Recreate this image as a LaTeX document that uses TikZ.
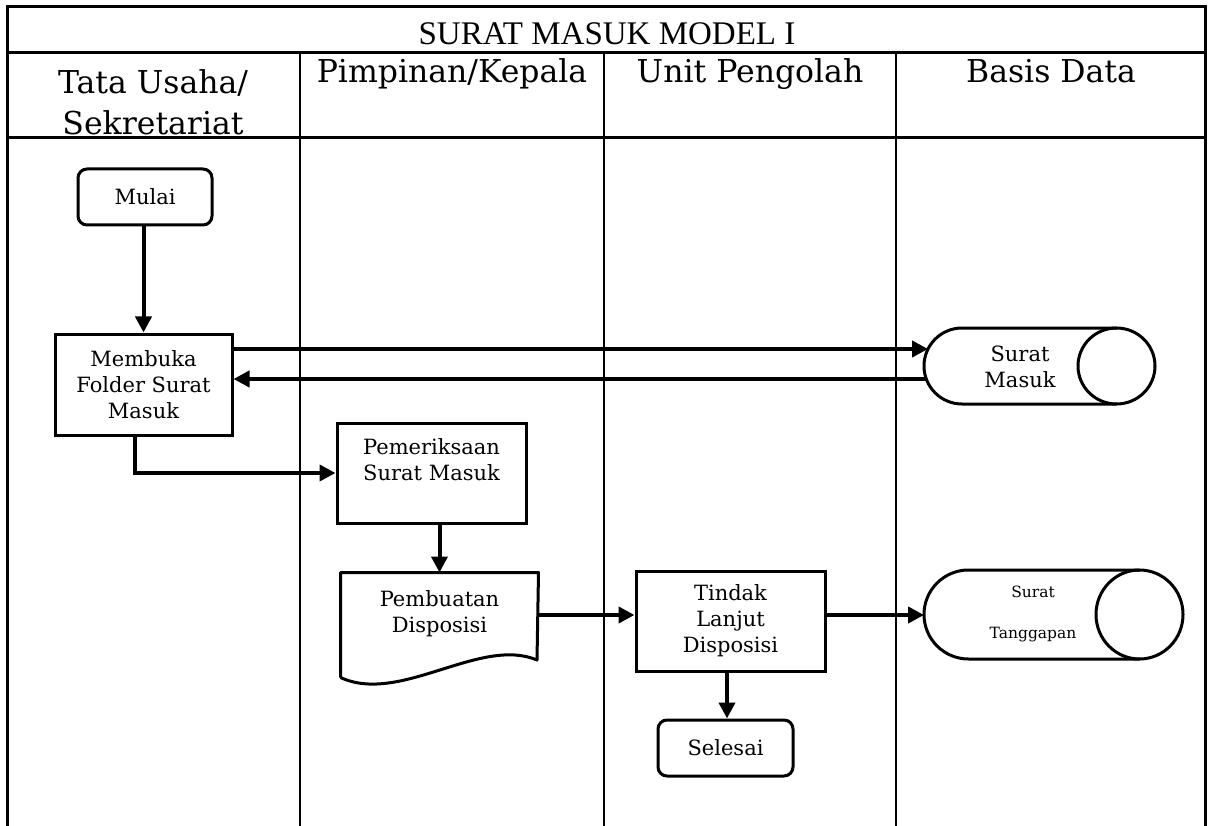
\documentclass[tikz,border=0pt]{standalone}
\usepackage{fontspec}
\setmainfont{DejaVu Serif}
\newfontfamily\titlefont{Liberation Serif}
\usetikzlibrary{arrows.meta}
\tikzset{>=stealth}
\newcommand{\boxtxt}{\fontsize{21}{26}\selectfont}
\newcommand{\headtxt}{\fontsize{31.5}{41}\selectfont}
\newcommand{\smalltxt}{\fontsize{15.5}{41}\selectfont}

\begin{document}
\begin{tikzpicture}[x=1pt,y=-1pt,
  proc/.style={draw,line width=3pt,align=center,font=\boxtxt,inner sep=0pt},
  term/.style={proc,rounded corners=9pt,minimum width=134,minimum height=56},
  arr/.style={-{Triangle[length=16pt,width=16pt]},line width=4pt},
  lane/.style={line width=1.8pt},
  frame/.style={line width=3pt}]
		\useasboundingbox (0,0) rectangle (1210,826);
		% frame and lanes
		\draw[frame] (7,826)--(7,7)--(1205,7)--(1205,826);
		\draw[frame] (7,53)--(1205,53);
		\draw[frame] (7,138)--(1205,138);
		\foreach \x in {300,604,896}
		\draw[lane] (\x,53)--(\x,826);
		\node[anchor=base,font=\titlefont\fontsize{33}{36}\selectfont] (title) at (607,45) {SURAT MASUK MODEL I};
		\node[align=center,font=\headtxt] (tu) at (153,102) {Tata Usaha/\\Sekretariat};
		\node[anchor=base,font=\headtxt] (pim) at (452,83) {Pimpinan/Kepala};
		\node[anchor=base,font=\headtxt] (unit) at (750,83) {Unit Pengolah};
		\node[anchor=base,font=\headtxt] (basis) at (1051,83) {Basis Data};
		% steps
		\node[term] (mulai) at (145,197) {Mulai};
		\node[proc,minimum width=177,minimum height=101] (membuka) at (143.5,384.5) {Membuka\\Folder Surat\\Masuk};
		\node[proc,minimum width=189,minimum height=100] (periksa) at (431.5,473) {Pemeriksaan\\Surat Masuk\\\mbox{}};
		\node[proc,draw=none,minimum width=195,minimum height=102] (doc) at (439.5,625) {Pembuatan\\Disposisi\\\mbox{}};
		\draw[line width=3pt,line join=round] (doc.south west)--(doc.north west)--(doc.north east)--(537,660)
		  .. controls (480,636) and (400,705) .. (doc.south west);
		\node[proc,minimum width=189,minimum height=100] (tindak) at (730.5,621) {Tindak\\Lanjut\\Disposisi};
		\node[term,minimum width=135] (selesai) at (725.5,748) {Selesai};
		% data stores
		\node[font=\boxtxt,align=center] (masuk) at (1020,367) {Surat\\Masuk};
		\draw[line width=3pt] (1116.5,328)--(962,328) arc[start angle=270,end angle=90,radius=38]--(1116.5,404);
		\draw[line width=3pt] (1116.5,366) ellipse [x radius=38.5,y radius=38];
		\coordinate (msk in) at (928,349);
		\coordinate (msk out) at (926,379);
		\node[font=\smalltxt,align=center] (tanggapan) at (1033,614) {Surat\\Tanggapan};
		\draw[line width=3pt] (1139.5,570)--(968.5,570) arc[start angle=270,end angle=90,radius=44.5]--(1139.5,659);
		\draw[line width=3pt] (1139.5,614.5) ellipse [x radius=43.5,y radius=44.5];
		\coordinate (tgp in) at (924,615);
		% arrows
		\draw[arr] (membuka.north |- mulai.south)--(membuka.north);
		\draw[arr] (membuka.east |- msk in)--(msk in);
		\draw[arr] (msk out)--(msk out -| membuka.east);
		\draw[arr] ([xshift=-8.5pt]membuka.south) |- (periksa.west);
		\draw[arr] (periksa.south -| doc.north)--(doc.north);
		\draw[arr] (doc.east |- tgp in)--(tindak.west |- tgp in);
		\draw[arr] (tindak.east |- tgp in)--(tgp in);
		\draw[arr] ([xshift=-3.5pt]tindak.south)--([xshift=-3.5pt]tindak.south |- selesai.north);
	\end{tikzpicture}
\end{document}
